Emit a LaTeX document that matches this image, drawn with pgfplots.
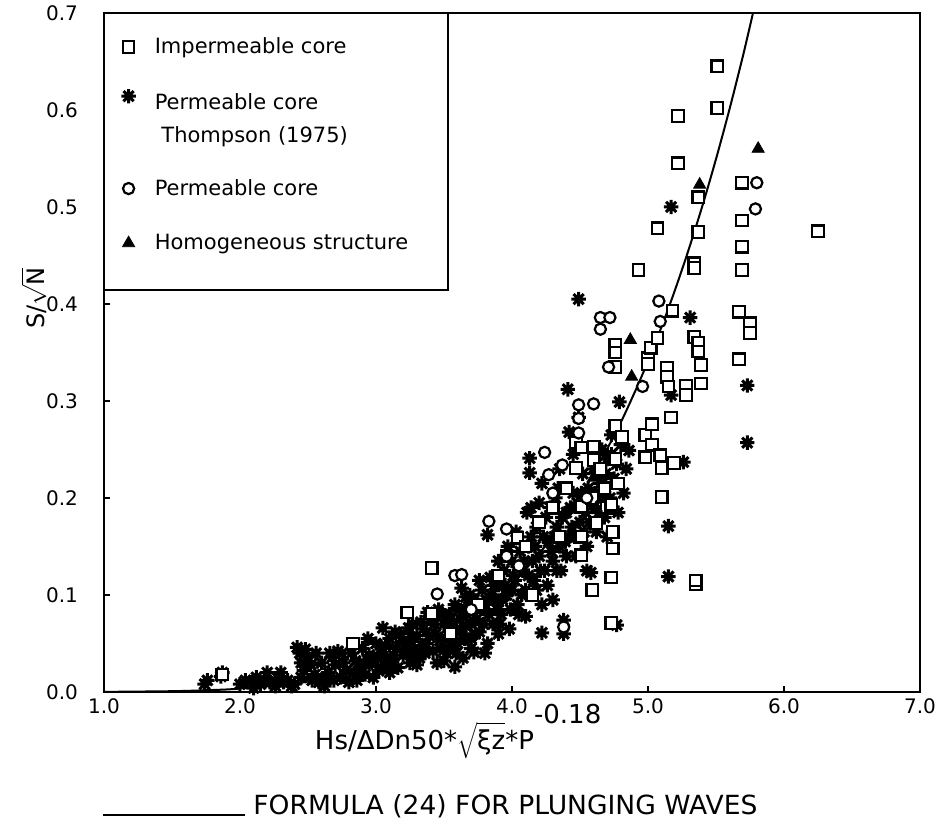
\documentclass[border=0pt]{standalone}
\usepackage{graphicx}
\usepackage{pgfplots}
\pgfplotsset{compat=1.18}
\usepackage{fontspec}
\setmainfont{DejaVu Sans}
\pgfdeclareplotmark{star8}{%
  \pgfpathmoveto{\pgfqpoint{0pt}{\pgfplotmarksize}}\pgfpathlineto{\pgfqpoint{0pt}{-\pgfplotmarksize}}%
  \pgfpathmoveto{\pgfqpoint{\pgfplotmarksize}{0pt}}\pgfpathlineto{\pgfqpoint{-\pgfplotmarksize}{0pt}}%
  \pgfpathmoveto{\pgfqpoint{0.707\pgfplotmarksize}{0.707\pgfplotmarksize}}\pgfpathlineto{\pgfqpoint{-0.707\pgfplotmarksize}{-0.707\pgfplotmarksize}}%
  \pgfpathmoveto{\pgfqpoint{-0.707\pgfplotmarksize}{0.707\pgfplotmarksize}}\pgfpathlineto{\pgfqpoint{0.707\pgfplotmarksize}{-0.707\pgfplotmarksize}}%
  \pgfusepathqstroke}
\begin{document}
\begin{tikzpicture}
\begin{axis}[
  name=ax, scale only axis, width=408pt, height=339.5pt,
  xmin=1, xmax=7, ymin=0, ymax=0.7,
  xtick={1,2,3,4,5,6,7}, xticklabels={1.0,2.0,3.0,4.0,5.0,6.0,7.0},
  ytick={0,0.1,0.2,0.3,0.4,0.5,0.6,0.7}, yticklabels={0.0,0.1,0.2,0.3,0.4,0.5,0.6,0.7},
  tick pos=left, tick align=inside, major tick length=3pt,
  tick style={line width=0.8pt, black},
  axis line style={line width=1pt},
  every tick label/.append style={font=\fontsize{10}{12}\selectfont},
  yticklabel style={xshift=-9.5pt},
  xlabel={Hs/ΔDn50*$\sqrt{\hbox{ξz}}$*P\raisebox{13pt}{-0.18}},
  xlabel style={at={(axis description cs:0.434,-0.084)}, anchor=base, font=\fontsize{13}{15}\selectfont},
  ylabel={S/$\sqrt{\hbox{N}}$},
  ylabel style={at={(axis description cs:-0.086,0.58)}, anchor=center, font=\fontsize{12}{14}\selectfont},
  legend cell align=left,
  legend style={at={(axis description cs:0,1)}, anchor=north west, draw=none, fill=none,
    inner xsep=8.5pt, inner ysep=10pt, row sep=14pt, column sep=7.5pt,
    font=\fontsize{10.5}{12.5}\selectfont},
  legend image code/.code={\draw[#1] plot coordinates {(0pt,0pt)};},
]
\draw[line width=1pt, fill=white] (rel axis cs:0,1) rectangle (rel axis cs:0.4216,0.592);

% Permeable core, Thompson (1975)
\addplot[forget plot, only marks, mark=star8, mark size=3.6pt, mark options={line width=1.5pt}] coordinates {
(1.74,0.008)(1.76,0.012)(1.86,0.016)(1.87,0.020)
(2.00,0.008)(2.04,0.012)(2.08,0.010)(2.10,0.004)(2.12,0.015)(2.15,0.008)(2.18,0.012)(2.20,0.020)(2.22,0.010)
(2.26,0.006)(2.28,0.014)(2.30,0.020)(2.32,0.010)(2.35,0.012)(2.38,0.006)(2.40,0.008)
(2.42,0.046)(2.44,0.040)(2.45,0.030)(2.45,0.015)(2.48,0.044)(2.47,0.022)(2.50,0.036)(2.52,0.028)(2.53,0.012)(2.55,0.018)
(2.56,0.040)(2.58,0.010)(2.60,0.030)(2.62,0.006)(2.63,0.015)(2.65,0.020)(2.66,0.040)(2.68,0.036)(2.69,0.012)(2.70,0.028)
(2.72,0.042)(2.74,0.015)(2.75,0.040)(2.76,0.030)(2.78,0.022)(2.80,0.010)(2.82,0.040)(2.84,0.020)(2.85,0.032)(2.86,0.012)
(2.88,0.025)(2.90,0.045)(2.91,0.030)(2.92,0.018)(2.94,0.055)(2.95,0.038)(2.97,0.030)(2.98,0.015)
(3.00,0.050)(3.01,0.035)(3.02,0.022)(3.04,0.040)(3.05,0.066)(3.06,0.028)(3.07,0.048)(3.08,0.035)(3.10,0.055)(3.10,0.020)
(3.12,0.028)(3.13,0.038)(3.14,0.062)(3.15,0.045)(3.16,0.025)(3.18,0.060)(3.19,0.052)(3.20,0.038)(3.22,0.050)(3.23,0.042)
(3.24,0.066)(3.25,0.030)(3.26,0.056)(3.27,0.070)(3.28,0.044)(3.29,0.036)(3.30,0.058)(3.30,0.028)(3.32,0.035)(3.33,0.072)
(3.34,0.048)(3.35,0.065)(3.36,0.040)(3.37,0.050)(3.38,0.082)(3.39,0.058)(3.40,0.075)(3.42,0.042)(3.43,0.070)(3.44,0.060)
(3.45,0.030)(3.46,0.085)(3.47,0.045)(3.48,0.055)(3.49,0.080)(3.50,0.070)(3.50,0.032)(3.52,0.040)(3.53,0.058)(3.54,0.080)
(3.55,0.048)(3.56,0.062)(3.57,0.072)(3.58,0.026)(3.58,0.090)(3.59,0.040)(3.60,0.050)(3.61,0.085)(3.62,0.075)(3.62,0.062)
(3.63,0.107)(3.64,0.035)(3.65,0.055)(3.66,0.068)(3.66,0.098)(3.67,0.080)(3.68,0.088)(3.69,0.100)(3.70,0.055)(3.70,0.070)
(3.70,0.045)(3.72,0.041)(3.72,0.095)(3.73,0.060)(3.74,0.075)(3.75,0.090)(3.76,0.062)(3.76,0.115)(3.78,0.105)(3.79,0.070)
(3.80,0.085)(3.80,0.040)(3.81,0.095)(3.82,0.162)(3.82,0.050)(3.83,0.080)(3.84,0.118)(3.85,0.100)(3.86,0.070)(3.87,0.110)
(3.88,0.095)(3.89,0.085)(3.90,0.110)(3.90,0.135)(3.90,0.060)(3.91,0.070)(3.92,0.080)(3.93,0.095)(3.94,0.125)(3.95,0.110)
(3.96,0.100)(3.97,0.150)(3.98,0.065)(3.99,0.085)(4.00,0.135)(4.00,0.105)(4.01,0.120)(4.02,0.115)(4.03,0.165)(4.04,0.090)
(4.05,0.080)(4.06,0.145)(4.07,0.100)(4.08,0.125)(4.09,0.135)(4.10,0.105)(4.10,0.078)(4.11,0.185)(4.12,0.150)(4.12,0.120)
(4.13,0.241)(4.13,0.226)(4.14,0.190)(4.14,0.160)(4.15,0.135)(4.16,0.115)(4.17,0.150)(4.18,0.170)(4.18,0.105)(4.20,0.140)
(4.20,0.195)(4.21,0.125)(4.22,0.215)(4.22,0.090)(4.22,0.061)(4.23,0.160)(4.24,0.125)(4.25,0.180)(4.26,0.110)(4.27,0.155)
(4.28,0.190)(4.29,0.145)(4.30,0.135)(4.30,0.095)(4.31,0.160)(4.32,0.200)(4.33,0.170)(4.33,0.125)(4.34,0.210)(4.35,0.150)
(4.35,0.230)(4.36,0.125)(4.37,0.180)(4.38,0.074)(4.38,0.060)(4.39,0.155)(4.40,0.185)(4.40,0.140)(4.41,0.312)(4.42,0.268)
(4.42,0.160)(4.43,0.190)(4.44,0.170)(4.45,0.205)(4.45,0.245)(4.46,0.160)(4.47,0.140)(4.48,0.195)(4.49,0.405)(4.49,0.283)
(4.50,0.175)(4.51,0.205)(4.52,0.225)(4.53,0.165)(4.54,0.185)(4.55,0.150)(4.55,0.125)(4.56,0.210)(4.57,0.175)(4.58,0.123)
(4.58,0.195)(4.60,0.230)(4.61,0.205)(4.62,0.165)(4.63,0.225)(4.64,0.185)(4.65,0.215)(4.66,0.250)(4.67,0.200)(4.68,0.180)
(4.69,0.225)(4.70,0.240)(4.70,0.160)(4.72,0.200)(4.73,0.245)(4.73,0.265)(4.75,0.220)(4.77,0.235)(4.77,0.069)(4.78,0.185)
(4.79,0.299)(4.80,0.255)(4.82,0.205)(4.84,0.230)
(4.86,0.249)(5.15,0.171)(5.15,0.119)(5.17,0.306)(5.17,0.500)(5.26,0.237)(5.31,0.386)(5.73,0.316)(5.73,0.257)
};

% Impermeable core
\addplot[forget plot, only marks, mark=square*, mark size=2.9pt, mark options={fill=white, draw=black, line width=1.1pt}] coordinates {
(1.87,0.018)(2.83,0.050)(3.23,0.082)(3.41,0.128)(3.41,0.081)(3.55,0.060)(3.75,0.090)(3.90,0.120)(3.96,0.140)(4.04,0.159)
(4.10,0.150)(4.15,0.100)(4.20,0.175)(4.30,0.190)(4.35,0.160)(4.40,0.210)(4.47,0.231)(4.47,0.257)(4.51,0.252)(4.51,0.160)
(4.51,0.141)(4.51,0.191)(4.59,0.200)(4.59,0.105)(4.60,0.253)(4.60,0.239)(4.62,0.174)(4.65,0.230)(4.68,0.210)(4.70,0.190)
(4.73,0.193)(4.73,0.118)(4.73,0.071)(4.74,0.165)(4.74,0.148)(4.76,0.274)(4.76,0.358)(4.76,0.350)(4.76,0.335)(4.76,0.240)
(4.78,0.215)(4.81,0.263)(4.93,0.435)(4.98,0.265)(4.98,0.242)(5.00,0.344)(5.00,0.338)(5.02,0.355)(5.03,0.276)(5.03,0.255)
(5.07,0.478)(5.07,0.365)(5.09,0.244)(5.10,0.231)(5.10,0.201)(5.14,0.334)(5.14,0.325)(5.15,0.315)(5.17,0.283)(5.18,0.393)
(5.19,0.236)(5.22,0.594)(5.22,0.545)(5.28,0.316)(5.28,0.306)(5.34,0.442)(5.34,0.437)(5.34,0.366)(5.35,0.111)(5.35,0.115)
(5.37,0.510)(5.37,0.474)(5.37,0.360)(5.37,0.351)(5.39,0.337)(5.39,0.318)(5.51,0.645)(5.51,0.602)(5.67,0.392)(5.67,0.343)
(5.69,0.525)(5.69,0.486)(5.69,0.459)(5.69,0.435)(5.75,0.380)(5.75,0.370)(6.25,0.475)
};

% Permeable core
\addplot[forget plot, only marks, mark=*, mark size=2.8pt, mark options={fill=white, draw=black, line width=1.1pt}] coordinates {
(3.45,0.101)(3.58,0.120)(3.63,0.121)(3.70,0.085)(3.83,0.176)(3.96,0.168)(3.96,0.140)(4.05,0.130)(4.24,0.247)(4.27,0.224)
(4.30,0.205)(4.37,0.234)(4.38,0.067)(4.49,0.296)(4.60,0.297)(4.49,0.282)(4.49,0.267)(4.55,0.200)(4.65,0.386)(4.72,0.386)
(4.65,0.374)(4.71,0.335)(4.96,0.315)(5.08,0.403)(5.09,0.382)(5.79,0.498)(5.80,0.525)
};

% Homogeneous structure
\addplot[forget plot, only marks, mark=triangle*, mark size=3.5pt, mark options={fill=black}] coordinates {
(4.60,0.221)(4.62,0.190)(4.87,0.363)(4.88,0.325)(5.38,0.523)(5.81,0.560)
};

% Formula (24) for plunging waves
\addplot[forget plot, smooth, line width=1pt] coordinates {
(1.00,0.0001)(1.50,0.0008)(1.75,0.0018)(2.00,0.0035)(2.50,0.0107)(3.00,0.0266)(3.25,0.0396)(3.50,0.0573)
(3.75,0.0810)(4.00,0.1118)(4.25,0.1514)(4.50,0.2014)(4.75,0.2639)(4.90,0.3083)(5.00,0.3411)(5.10,0.3766)
(5.20,0.4150)(5.30,0.4565)(5.40,0.5012)(5.50,0.5494)(5.60,0.6012)(5.70,0.6568)(5.772,0.700)
};

\addlegendimage{only marks, mark=square*, mark size=2.9pt, mark options={fill=white, draw=black, line width=1.1pt}}
\addlegendentry{Impermeable core}
\addlegendimage{only marks, mark=star8, mark size=3.6pt, mark options={line width=1.5pt, yshift=10.75pt}}
\addlegendentry{\begin{tabular}{@{}l@{}}Permeable core\\[4pt]\ Thompson (1975)\rule[-17pt]{0pt}{0pt}\end{tabular}}
\addlegendimage{only marks, mark=*, mark size=2.8pt, mark options={fill=white, draw=black, line width=1.1pt}}
\addlegendentry{Permeable core}
\addlegendimage{only marks, mark=triangle*, mark size=3.5pt, mark options={fill=black}}
\addlegendentry{Homogeneous structure}
\end{axis}
\draw[line width=0.8pt] ([xshift=-0.5pt,yshift=-61.5pt]ax.south west) -- ++(71pt,0);
\node[anchor=base west, inner sep=0pt] at ([xshift=74.5pt,yshift=-61.5pt]ax.south west)
  {\resizebox{252pt}{10pt}{FORMULA (24) FOR PLUNGING WAVES}};
\pgfresetboundingbox
\path ([xshift=-52pt,yshift=-73pt]ax.south west) rectangle ([xshift=11pt,yshift=6.5pt]ax.north east);
\end{tikzpicture}
\end{document}
